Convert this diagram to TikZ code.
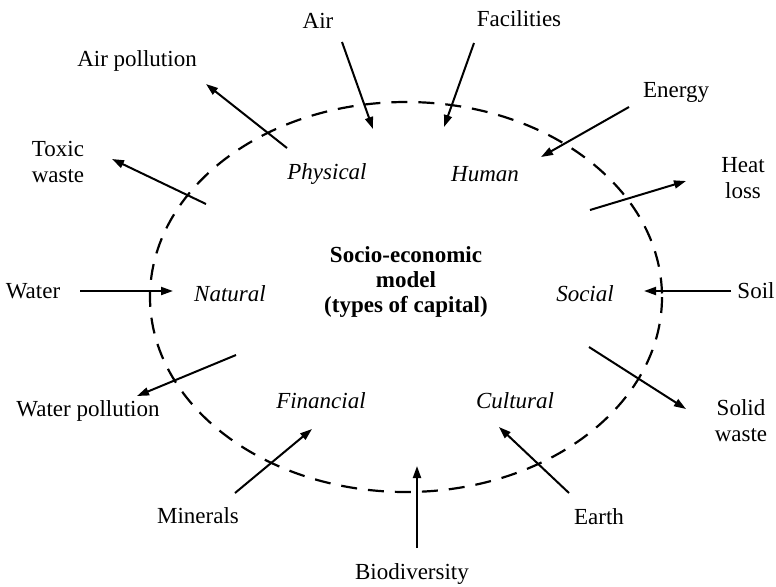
\documentclass[tikz,border=0pt]{standalone}
\usepackage{fontspec}
\setmainfont{Liberation Serif}
\usetikzlibrary{arrows.meta}

\begin{document}
\begin{tikzpicture}[x=0.5pt, y=-0.5pt,
  every node/.style={font=\fontsize{11.5}{13}\selectfont, align=center, inner sep=1pt},
  capital/.style={font=\fontsize{11.5}{13}\selectfont\itshape},
  flow/.style={line width=1pt, -{Triangle[length=6pt, width=4pt]}},
  boundary/.style={line width=1.1pt, dash pattern=on 8pt off 5.5pt}]

\useasboundingbox (0,0) rectangle (776,586);

% Boundary of the economy
\draw[boundary] (406,297) ellipse (256 and 195);

% Centre text
\node[font=\fontsize{11.5}{12.5}\selectfont\bfseries] (model) at (406,282)
  {Socio-economic\\model\\(types of capital)};

% Types of capital inside the boundary
\node[capital] (physical)  at (327,174) {Physical};
\node[capital] (human)     at (485,174) {Human};
\node[capital] (natural)   at (230,294) {Natural};
\node[capital] (social)    at (585,294) {Social};
\node[capital] (financial) at (321,401) {Financial};
\node[capital] (cultural)  at (515,401) {Cultural};

% Inputs and outputs outside the boundary
\node (air)        at (318,21)  {Air};
\node (facilities) at (519,19)  {Facilities};
\node (airpol)     at (137,61)  {Air pollution};
\node (energy)     at (676,92)  {Energy};
\node (toxic)      at (58,162)  {Toxic\\waste};
\node (heat)       at (743,178) {Heat\\loss};
\node (water)      at (33,291)  {Water};
\node (soil)       at (756,291) {Soil};
\node (waterpol)   at (88,411)  {Water pollution};
\node (solid)      at (741,421) {Solid\\waste};
\node (minerals)   at (198,516) {Minerals};
\node (earth)      at (599,517) {Earth};
\node (biodiv)     at (412,574) {Biodiversity};

% Arrow ends
\coordinate (air-a)      at (342,42);  \coordinate (air-b)      at (373,129);
\coordinate (facilities-a) at (474,43); \coordinate (facilities-b) at (444,127);
\coordinate (airpol-a)   at (287,148); \coordinate (airpol-b)   at (206,84);
\coordinate (energy-a)   at (629,107); \coordinate (energy-b)   at (541,157);
\coordinate (toxic-a)    at (206,204); \coordinate (toxic-b)    at (112,159);
\coordinate (heat-a)     at (590,210); \coordinate (heat-b)     at (686,181);
\coordinate (water-a)    at (80,291);  \coordinate (water-b)    at (173,291);
\coordinate (soil-a)     at (731,291); \coordinate (soil-b)     at (644,291);
\coordinate (waterpol-a) at (236,355); \coordinate (waterpol-b) at (137,396);
\coordinate (solid-a)    at (589,347); \coordinate (solid-b)    at (686,409);
\coordinate (minerals-a) at (235,493); \coordinate (minerals-b) at (312,429);
\coordinate (earth-a)    at (569,493); \coordinate (earth-b)    at (499,427);
\coordinate (biodiv-a)   at (417,548); \coordinate (biodiv-b)   at (417,466);

% Flows across the boundary
\foreach \f in {air,facilities,airpol,energy,toxic,heat,water,soil,waterpol,solid,minerals,earth,biodiv}
  \draw[flow] (\f-a) -- (\f-b);

\end{tikzpicture}
\end{document}
